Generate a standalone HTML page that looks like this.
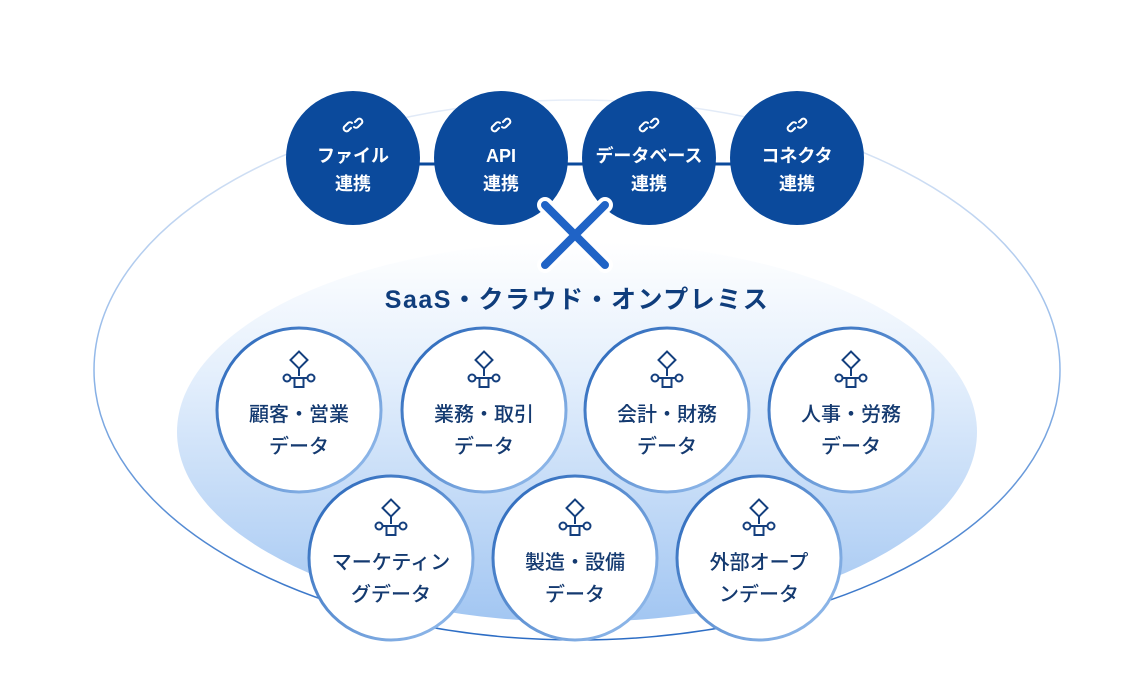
<!DOCTYPE html>
<html><head><meta charset="utf-8"><style>
html,body{margin:0;padding:0;background:#fff;}
svg{display:block;}
text{font-family:"Liberation Sans","Noto Sans CJK JP",sans-serif;}
</style></head><body>
<svg width="1146" height="700" viewBox="0 0 1146 700" xmlns="http://www.w3.org/2000/svg">
<defs>
<linearGradient id="ig" x1="0" y1="0" x2="0" y2="1">
<stop offset="0" stop-color="#ffffff"/>
<stop offset="0.35" stop-color="#e4effc"/>
<stop offset="1" stop-color="#a2c6f2"/>
</linearGradient>
<linearGradient id="og" x1="0" y1="0" x2="0" y2="1">
<stop offset="0" stop-color="#e6edf8"/>
<stop offset="0.5" stop-color="#8fb6e8"/>
<stop offset="1" stop-color="#2b6cc4"/>
</linearGradient>
<linearGradient id="cb" x1="0" y1="0" x2="1" y2="1">
<stop offset="0" stop-color="#2463b8"/>
<stop offset="1" stop-color="#9cc2ef"/>
</linearGradient>
<g id="link" fill="none" stroke="#fff" stroke-width="2" stroke-linecap="round">
<path d="M-2,3 l-3,3 a3,3 0 0 1 -4,-4 l4,-4 a3,3 0 0 1 4,0"/>
<path d="M2,-3 l3,-3 a3,3 0 0 1 4,4 l-4,4 a3,3 0 0 1 -4,0"/>
</g>
<g id="tree" fill="none" stroke="#143f7e" stroke-width="2">
<rect x="-6" y="-19" width="12" height="12" transform="rotate(45 0 -13)"/>
<path d="M0,-4 v7 M-8,5 h16"/>
<circle cx="-12" cy="5" r="3.5"/>
<circle cx="12" cy="5" r="3.5"/>
<rect x="-4.5" y="5" width="9" height="9"/>
</g>
</defs>
<ellipse cx="577" cy="370" rx="483" ry="270" fill="none" stroke="url(#og)" stroke-width="1.5"/>
<ellipse cx="577" cy="432" rx="400" ry="190" fill="url(#ig)"/>
<line x1="352" y1="164" x2="796" y2="164" stroke="#0b4a9c" stroke-width="3"/>
<g fill="#0b4a9c">
<circle cx="353" cy="158" r="67"/><circle cx="501" cy="158" r="67"/>
<circle cx="649" cy="158" r="67"/><circle cx="797" cy="158" r="67"/>
</g>
<g font-size="18" font-weight="bold" fill="#fff" text-anchor="middle">
<use href="#link" x="353" y="125"/><text x="353" y="162">ファイル</text><text x="353" y="190">連携</text>
<use href="#link" x="501" y="125"/><text x="501" y="162">API</text><text x="501" y="190">連携</text>
<use href="#link" x="649" y="125"/><text x="649" y="162">データベース</text><text x="649" y="190">連携</text>
<use href="#link" x="797" y="125"/><text x="797" y="162">コネクタ</text><text x="797" y="190">連携</text>
</g>
<g stroke-linecap="round">
<path d="M545,205 L605,265 M605,205 L545,265" stroke="#fff" stroke-width="16"/>
<path d="M545,205 L605,265 M605,205 L545,265" stroke="#1f63c6" stroke-width="8"/>
</g>
<text x="577" y="308" font-size="25" font-weight="bold" fill="#0f3d7c" text-anchor="middle" letter-spacing="1.5">SaaS・クラウド・オンプレミス</text>
<g fill="#fff" stroke="url(#cb)" stroke-width="3">
<circle cx="299" cy="410" r="82"/><circle cx="484" cy="410" r="82"/>
<circle cx="667" cy="410" r="82"/><circle cx="851" cy="410" r="82"/>
<circle cx="391" cy="558" r="82"/><circle cx="575" cy="558" r="82"/>
<circle cx="759" cy="558" r="82"/>
</g>
<g font-size="20" font-weight="500" fill="#143a70" text-anchor="middle">
<use href="#tree" x="299" y="373"/><text x="299" y="421">顧客・営業</text><text x="299" y="453">データ</text>
<use href="#tree" x="484" y="373"/><text x="484" y="421">業務・取引</text><text x="484" y="453">データ</text>
<use href="#tree" x="667" y="373"/><text x="667" y="421">会計・財務</text><text x="667" y="453">データ</text>
<use href="#tree" x="851" y="373"/><text x="851" y="421">人事・労務</text><text x="851" y="453">データ</text>
<use href="#tree" x="391" y="521"/><text x="391" y="569">マーケティン</text><text x="391" y="601">グデータ</text>
<use href="#tree" x="575" y="521"/><text x="575" y="569">製造・設備</text><text x="575" y="601">データ</text>
<use href="#tree" x="759" y="521"/><text x="759" y="569">外部オープ</text><text x="759" y="601">ンデータ</text>
</g>
</svg>
</body></html>
